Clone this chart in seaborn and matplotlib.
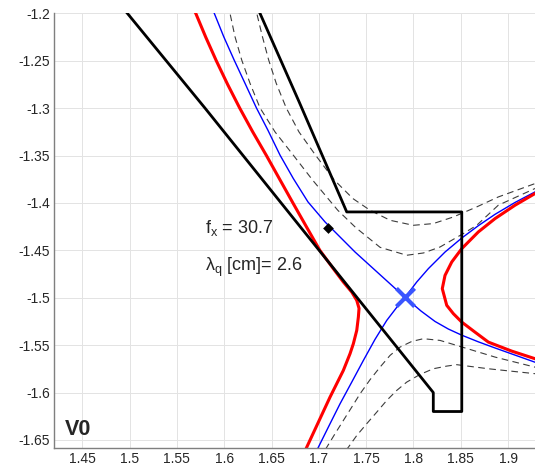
import matplotlib
matplotlib.use("Agg")
import matplotlib.pyplot as plt
import pandas as pd
import seaborn as sns

# ---- divertor geometry (R, Z in metres) ----
wall_R = [1.489, 1.4976, 1.5797, 1.821, 1.821, 1.8511, 1.8511, 1.7295, 1.679, 1.6378, 1.6334]
wall_Z = [-1.19, -1.200, -1.300, -1.600, -1.620, -1.620, -1.4095, -1.4095, -1.293, -1.200, -1.19]

# separatrix: two legs crossing at the X-point
sepA_R = [1.585, 1.5895, 1.5995, 1.6105, 1.6220, 1.6340, 1.6462, 1.6590, 1.6730, 1.6885,
          1.7066, 1.7383, 1.7647, 1.7911, 1.8080, 1.8228, 1.8369, 1.8511, 1.8686, 1.8863,
          1.9074, 1.9285, 1.94]
sepA_Z = [-1.19, -1.200, -1.2247, -1.2493, -1.2739, -1.2997, -1.3233, -1.3496, -1.3742, -1.3989,
          -1.4201, -1.4518, -1.4757, -1.4996, -1.5140, -1.5250, -1.5330, -1.5395, -1.5465, -1.5530,
          -1.5605, -1.5680, -1.572]
sepB_R = [1.6933, 1.6995, 1.7118, 1.7224, 1.7348, 1.7471, 1.7594, 1.7718, 1.7840, 1.7911,
          1.8035, 1.8158, 1.8334, 1.8511, 1.8686, 1.8863, 1.9074, 1.9285, 1.94]
sepB_Z = [-1.67, -1.6577, -1.6330, -1.6119, -1.5890, -1.5661, -1.5439, -1.5239, -1.5080, -1.4996,
          -1.4834, -1.4693, -1.4518, -1.4370, -1.4240, -1.4120, -1.3995, -1.3884, -1.383]

# flux surfaces through the strike points (red)
redL_R = [1.565, 1.5699, 1.5804, 1.5916, 1.6036, 1.6164, 1.6301, 1.6446, 1.6586, 1.6726,
          1.6868, 1.7011, 1.7153, 1.7259, 1.7348, 1.7401, 1.7425, 1.7418, 1.7401, 1.7365,
          1.7330, 1.7259, 1.7189, 1.7118, 1.6995, 1.6872, 1.6815]
redL_Z = [-1.19, -1.200, -1.225, -1.250, -1.275, -1.300, -1.325, -1.350, -1.375, -1.400,
          -1.425, -1.450, -1.4693, -1.4834, -1.4940, -1.5028, -1.5112, -1.5204, -1.5344, -1.5485,
          -1.5590, -1.5767, -1.5907, -1.6049, -1.6313, -1.6577, -1.670]
redR_R = [1.94, 1.9285, 1.9074, 1.8863, 1.8686, 1.8511, 1.8405, 1.8334, 1.8305, 1.8352,
          1.8422, 1.8511, 1.8651, 1.8792, 1.9039, 1.9285, 1.94]
redR_Z = [-1.385, -1.3901, -1.4024, -1.4165, -1.4306, -1.4482, -1.4623, -1.4764, -1.4904, -1.5080,
          -1.5168, -1.5257, -1.5363, -1.5468, -1.5563, -1.5643, -1.568]

# neighbouring flux surfaces (dashed)
d1_R = [1.632, 1.6344, 1.6404, 1.6470, 1.6550, 1.6655, 1.6790, 1.6965, 1.7165, 1.7360,
        1.7541, 1.7753, 1.7999, 1.8210, 1.8422, 1.8669, 1.8897, 1.9285, 1.94]
d1_Z = [-1.19, -1.200, -1.2247, -1.2493, -1.2739, -1.2997, -1.3251, -1.3496, -1.3760, -1.3954,
        -1.4077, -1.4183, -1.4236, -1.4218, -1.4148, -1.4042, -1.3937, -1.3796, -1.376]
d2_R = [1.6036, 1.6061, 1.6114, 1.6185, 1.6273, 1.6378, 1.6537, 1.6730, 1.6935, 1.7200,
        1.7390, 1.7647, 1.7929, 1.8105, 1.8281, 1.8528, 1.8669, 1.8897, 1.9285, 1.94]
d2_Z = [-1.19, -1.200, -1.2247, -1.2493, -1.2739, -1.2997, -1.3251, -1.3496, -1.3760, -1.4077,
        -1.4260, -1.4468, -1.4552, -1.4528, -1.4465, -1.4323, -1.4236, -1.4024, -1.3848, -1.381]
d3_R = [1.7008, 1.7084, 1.7171, 1.7259, 1.7348, 1.7436, 1.7541, 1.7647, 1.7753, 1.7858,
        1.7982, 1.8105, 1.8281, 1.8458, 1.8863, 1.9285, 1.94]
d3_Z = [-1.67, -1.6577, -1.6435, -1.6295, -1.6154, -1.6013, -1.5865, -1.5732, -1.5608, -1.5521,
        -1.5461, -1.5432, -1.5450, -1.5503, -1.5626, -1.5732, -1.576]
d4_R = [1.7216, 1.7312, 1.7401, 1.7506, 1.7612, 1.7718, 1.7823, 1.7929, 1.8070, 1.8210,
        1.8352, 1.8458, 1.8792, 1.9285, 1.94]
d4_Z = [-1.67, -1.6577, -1.6453, -1.6329, -1.6207, -1.6083, -1.5978, -1.5890, -1.5809, -1.5749,
        -1.5721, -1.5706, -1.5749, -1.5801, -1.581]

xpoint_R, xpoint_Z = [1.7911], [-1.4996]
probe_R, probe_Z = [1.7100], [-1.4260]

fx_value = 30.7
lambda_q_cm = 2.6
case_label = "V0"

xticks = [1.45, 1.5, 1.55, 1.6, 1.65, 1.7, 1.75, 1.8, 1.85, 1.9]
yticks = [-1.65, -1.6, -1.55, -1.5, -1.45, -1.4, -1.35, -1.3, -1.25, -1.2]

# ---- style ----
sns.set_style("white")
plt.rcParams["font.family"] = ["Liberation Sans", "DejaVu Sans"]
plt.rcParams["axes.unicode_minus"] = False
plt.rcParams["mathtext.default"] = "regular"

fig = plt.figure(figsize=(5.35, 4.65), dpi=100)
ax = fig.add_axes([54.3 / 535, 16.7 / 465, 480.7 / 535, 435 / 465])


def curve(R, Z, **kw):
    df = pd.DataFrame({"R": R, "Z": Z})
    sns.lineplot(data=df, x="R", y="Z", sort=False, estimator=None, ax=ax, **kw)


dash = (0, (6, 4))
for R, Z in [(d1_R, d1_Z), (d2_R, d2_Z), (d3_R, d3_Z), (d4_R, d4_Z)]:
    curve(R, Z, color="#3c3c3c", lw=0.8, linestyle=dash)

curve(sepA_R, sepA_Z, color="#0000ff", lw=1.0)
curve(sepB_R, sepB_Z, color="#0000ff", lw=1.0)
curve(redL_R, redL_Z, color="#ff0000", lw=2.2)
curve(redR_R, redR_Z, color="#ff0000", lw=2.2)
curve(wall_R, wall_Z, color="black", lw=2.0)

sns.scatterplot(x=xpoint_R, y=xpoint_Z, marker="x", s=170, color="#3a55ff",
                linewidth=3, ax=ax, zorder=5)
sns.scatterplot(x=probe_R, y=probe_Z, marker="D", s=30, color="black",
                linewidth=0, ax=ax, zorder=5)

ax.text(1.5797, -1.4267, f"f$_{{x}}$ = {fx_value}", fontsize=13, va="center", ha="left")
ax.text(1.5797, -1.4676, f"λ$_{{q}}$ [cm]= {lambda_q_cm}", fontsize=13, va="center", ha="left")
ax.text(1.4317, -1.6443, case_label, fontsize=15.5, fontweight="bold", va="baseline", ha="left")

ax.set_xlim(1.4204, 1.9285)
ax.set_ylim(-1.6588, -1.2)
ax.set_xticks(xticks)
ax.set_yticks(yticks)
ax.set_xticklabels([f"{v:g}" for v in xticks])
ax.set_yticklabels([f"{v:g}" for v in yticks])
ax.set_xlabel("")
ax.set_ylabel("")

ax.grid(True, color="#e3e3e3", lw=0.7)
ax.set_axisbelow(True)
for side in ["top", "right"]:
    ax.spines[side].set_visible(False)
for side in ["left", "bottom"]:
    ax.spines[side].set_color("#7f7f7f")
    ax.spines[side].set_linewidth(1.0)
ax.tick_params(axis="both", direction="in", length=3.5, width=0.8, color="#7f7f7f",
               labelsize=10, labelcolor="#262626")
ax.tick_params(axis="x", pad=3)
ax.tick_params(axis="y", pad=3)

fig.savefig("out.png", dpi=100)
